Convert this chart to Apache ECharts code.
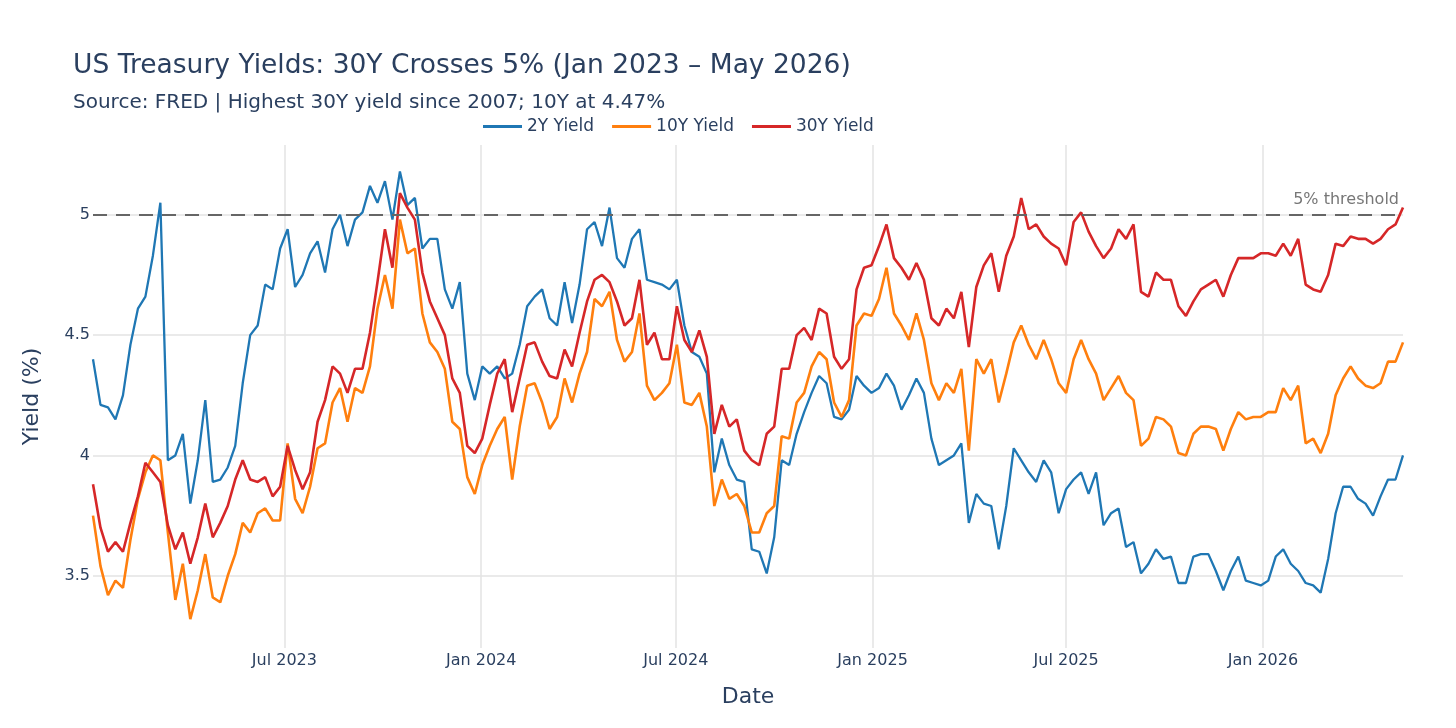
<!DOCTYPE html>
<html>
<head>
<meta charset="utf-8">
<script src="https://cdn.jsdelivr.net/npm/echarts@6/dist/echarts.min.js"></script>
<style>
  html, body { margin: 0; padding: 0; background: #fff; }
  #chart { width: 1456px; height: 728px; }
</style>
</head>
<body>
<div id="chart"></div>
<script>
// weekly readings, first point Tue 3 Jan 2023
const startDate = Date.UTC(2023, 0, 3);
const weekMs = 7 * 24 * 3600 * 1000;

const y2 = [
  4.40, 4.21, 4.20, 4.15, 4.25, 4.46, 4.61, 4.66, 4.83, 5.05,
  3.98, 4.00, 4.09, 3.80, 3.98, 4.23, 3.89, 3.90, 3.95, 4.04,
  4.30, 4.50, 4.54, 4.71, 4.69, 4.86, 4.94, 4.70, 4.75, 4.84,
  4.89, 4.76, 4.94, 5.00, 4.87, 4.98, 5.01, 5.12, 5.05, 5.14,
  4.98, 5.18, 5.04, 5.07, 4.86, 4.90, 4.90, 4.69, 4.61, 4.72,
  4.34, 4.23, 4.37, 4.34, 4.37, 4.32, 4.34, 4.46, 4.62, 4.66,
  4.69, 4.57, 4.54, 4.72, 4.55, 4.71, 4.94, 4.97, 4.87, 5.03,
  4.82, 4.78, 4.90, 4.94, 4.73, 4.72, 4.71, 4.69, 4.73, 4.54,
  4.43, 4.41, 4.34, 3.93, 4.07, 3.96, 3.90, 3.89, 3.61, 3.60,
  3.51, 3.66, 3.98, 3.96, 4.09, 4.18, 4.26, 4.33, 4.30, 4.16,
  4.15, 4.19, 4.33, 4.29, 4.26, 4.28, 4.34, 4.29, 4.19, 4.25,
  4.32, 4.26, 4.07, 3.96, 3.98, 4.00, 4.05, 3.72, 3.84, 3.80,
  3.79, 3.61, 3.79, 4.03, 3.98, 3.93, 3.89, 3.98, 3.93, 3.76,
  3.86, 3.90, 3.93, 3.84, 3.93, 3.71, 3.76, 3.78, 3.62, 3.64,
  3.51, 3.55, 3.61, 3.57, 3.58, 3.47, 3.47, 3.58, 3.59, 3.59,
  3.52, 3.44, 3.52, 3.58, 3.48, 3.47, 3.46, 3.48, 3.58, 3.61,
  3.55, 3.52, 3.47, 3.46, 3.43, 3.57, 3.76, 3.87, 3.87, 3.82,
  3.80, 3.75, 3.83, 3.90, 3.90, 4.00
];

const y10 = [
  3.75, 3.54, 3.42, 3.48, 3.45, 3.65, 3.82, 3.93, 4.00, 3.98,
  3.68, 3.40, 3.55, 3.32, 3.44, 3.59, 3.41, 3.39, 3.50, 3.59,
  3.72, 3.68, 3.76, 3.78, 3.73, 3.73, 4.05, 3.82, 3.76, 3.87,
  4.03, 4.05, 4.22, 4.28, 4.14, 4.28, 4.26, 4.37, 4.61, 4.75,
  4.61, 4.98, 4.84, 4.86, 4.59, 4.47, 4.43, 4.36, 4.14, 4.11,
  3.91, 3.84, 3.96, 4.04, 4.11, 4.16, 3.90, 4.12, 4.29, 4.30,
  4.22, 4.11, 4.16, 4.32, 4.22, 4.34, 4.43, 4.65, 4.62, 4.68,
  4.48, 4.39, 4.43, 4.59, 4.29, 4.23, 4.26, 4.30, 4.46, 4.22,
  4.21, 4.26, 4.12, 3.79, 3.90, 3.82, 3.84, 3.79, 3.68, 3.68,
  3.76, 3.79, 4.08, 4.07, 4.22, 4.26, 4.37, 4.43, 4.40, 4.22,
  4.16, 4.23, 4.54, 4.59, 4.58, 4.65, 4.78, 4.59, 4.54, 4.48,
  4.59, 4.48, 4.30, 4.23, 4.30, 4.26, 4.36, 4.02, 4.40, 4.34,
  4.40, 4.22, 4.34, 4.47, 4.54, 4.46, 4.40, 4.48, 4.40, 4.30,
  4.26, 4.40, 4.48, 4.40, 4.34, 4.23, 4.28, 4.33, 4.26, 4.23,
  4.04, 4.07, 4.16, 4.15, 4.12, 4.01, 4.00, 4.09, 4.12, 4.12,
  4.11, 4.02, 4.11, 4.18, 4.15, 4.16, 4.16, 4.18, 4.18, 4.28,
  4.23, 4.29, 4.05, 4.07, 4.01, 4.09, 4.25, 4.32, 4.37, 4.32,
  4.29, 4.28, 4.30, 4.39, 4.39, 4.47
];

const y30 = [
  3.88, 3.70, 3.60, 3.64, 3.60, 3.72, 3.83, 3.97, 3.93, 3.89,
  3.71, 3.61, 3.68, 3.55, 3.66, 3.80, 3.66, 3.72, 3.79, 3.90,
  3.98, 3.90, 3.89, 3.91, 3.83, 3.87, 4.04, 3.94, 3.86, 3.93,
  4.14, 4.23, 4.37, 4.34, 4.26, 4.36, 4.36, 4.51, 4.72, 4.94,
  4.78, 5.09, 5.03, 4.98, 4.76, 4.64, 4.57, 4.50, 4.32, 4.26,
  4.04, 4.01, 4.07, 4.21, 4.34, 4.40, 4.18, 4.32, 4.46, 4.47,
  4.39, 4.33, 4.32, 4.44, 4.37, 4.51, 4.64, 4.73, 4.75, 4.72,
  4.64, 4.54, 4.57, 4.73, 4.46, 4.51, 4.40, 4.40, 4.62, 4.48,
  4.43, 4.52, 4.41, 4.09, 4.21, 4.12, 4.15, 4.02, 3.98, 3.96,
  4.09, 4.12, 4.36, 4.36, 4.50, 4.53, 4.48, 4.61, 4.59, 4.41,
  4.36, 4.40, 4.69, 4.78, 4.79, 4.87, 4.96, 4.82, 4.78, 4.73,
  4.80, 4.73, 4.57, 4.54, 4.61, 4.57, 4.68, 4.45, 4.70, 4.79,
  4.84, 4.68, 4.83, 4.91, 5.07, 4.94, 4.96, 4.91, 4.88, 4.86,
  4.79, 4.97, 5.01, 4.93, 4.87, 4.82, 4.86, 4.94, 4.90, 4.96,
  4.68, 4.66, 4.76, 4.73, 4.73, 4.62, 4.58, 4.64, 4.69, 4.71,
  4.73, 4.66, 4.75, 4.82, 4.82, 4.82, 4.84, 4.84, 4.83, 4.88,
  4.83, 4.90, 4.71, 4.69, 4.68, 4.75, 4.88, 4.87, 4.91, 4.90,
  4.90, 4.88, 4.90, 4.94, 4.96, 5.03
];

const xTicks = ['2023-07-01', '2024-01-01', '2024-07-01', '2025-01-01', '2025-07-01', '2026-01-01'];
const yTicks = [3.5, 4, 4.5, 5];
const threshold = 5;

const months = ['Jan', 'Feb', 'Mar', 'Apr', 'May', 'Jun', 'Jul', 'Aug', 'Sep', 'Oct', 'Nov', 'Dec'];
const dates = y2.map((_, i) => startDate + i * weekMs);
const pairs = arr => arr.map((v, i) => [dates[i], v]);
const xTickValues = xTicks.map(d => Date.parse(d + 'T00:00:00Z'));

const ink = '#2a3f5f';
const font = 'DejaVu Sans';

const chart = echarts.init(document.getElementById('chart'));
chart.setOption({
  animation: false,
  backgroundColor: '#fff',
  textStyle: { fontFamily: font },
  title: [
    {
      text: 'US Treasury Yields: 30Y Crosses 5% (Jan 2023 \u2013 May 2026)',
      left: 73, top: 53, padding: 0,
      textStyle: { fontFamily: font, fontSize: 26.5, fontWeight: 'normal', color: ink }
    },
    {
      text: 'Source: FRED | Highest 30Y yield since 2007; 10Y at 4.47%',
      left: 73, top: 93, padding: 0,
      textStyle: { fontFamily: font, fontSize: 20, fontWeight: 'normal', color: ink }
    }
  ],
  legend: {
    top: 118, left: 483, padding: 0,
    itemWidth: 39, itemHeight: 3, itemGap: 18,
    icon: 'rect',
    textStyle: { fontFamily: font, fontSize: 17, color: ink },
    data: ['2Y Yield', '10Y Yield', '30Y Yield']
  },
  grid: { left: 93, right: 53, top: 145, bottom: 80 },
  xAxis: {
    type: 'value',
    min: dates[0],
    max: dates[dates.length - 1],
    name: 'Date',
    nameLocation: 'middle',
    nameGap: 38,
    nameTextStyle: { fontFamily: font, fontSize: 22, color: ink },
    axisLine: { show: false },
    axisTick: { show: false, customValues: xTickValues },
    axisLabel: {
      customValues: xTickValues,
      margin: 5,
      fontSize: 16,
      color: ink,
      fontFamily: font,
      formatter: v => { const d = new Date(v); return months[d.getUTCMonth()] + ' ' + d.getUTCFullYear(); }
    },
    splitLine: { show: true, lineStyle: { color: '#e3e3e3', width: 1.5 } }
  },
  yAxis: {
    type: 'value',
    min: 3.2,
    max: 5.29,
    name: 'Yield (%)',
    nameLocation: 'middle',
    nameGap: 50,
    nameRotate: 90,
    nameTextStyle: { fontFamily: font, fontSize: 22, color: ink },
    axisLine: { show: false },
    axisTick: { show: false, customValues: yTicks },
    axisLabel: { customValues: yTicks, margin: 3, fontSize: 16, color: ink, fontFamily: font },
    splitLine: { show: true, lineStyle: { color: '#e3e3e3', width: 1.5 } }
  },
  series: [
    {
      name: '2Y Yield', type: 'line', data: pairs(y2), showSymbol: false,
      color: '#1f77b4', lineStyle: { width: 2.3 },
      markLine: {
        silent: true, symbol: 'none',
        lineStyle: { color: '#666', type: [14, 9], width: 2 },
        label: { show: true, position: 'insideEndTop', formatter: '5% threshold',
                 color: '#777', fontSize: 16, fontFamily: font, distance: [4, 7] },
        data: [{ yAxis: threshold }]
      }
    },
    {
      name: '10Y Yield', type: 'line', data: pairs(y10), showSymbol: false,
      color: '#ff7f0e', lineStyle: { width: 2.6 }
    },
    {
      name: '30Y Yield', type: 'line', data: pairs(y30), showSymbol: false,
      color: '#d62728', lineStyle: { width: 2.6 }
    }
  ]
});
window.addEventListener('resize', () => chart.resize());
</script>
</body>
</html>
